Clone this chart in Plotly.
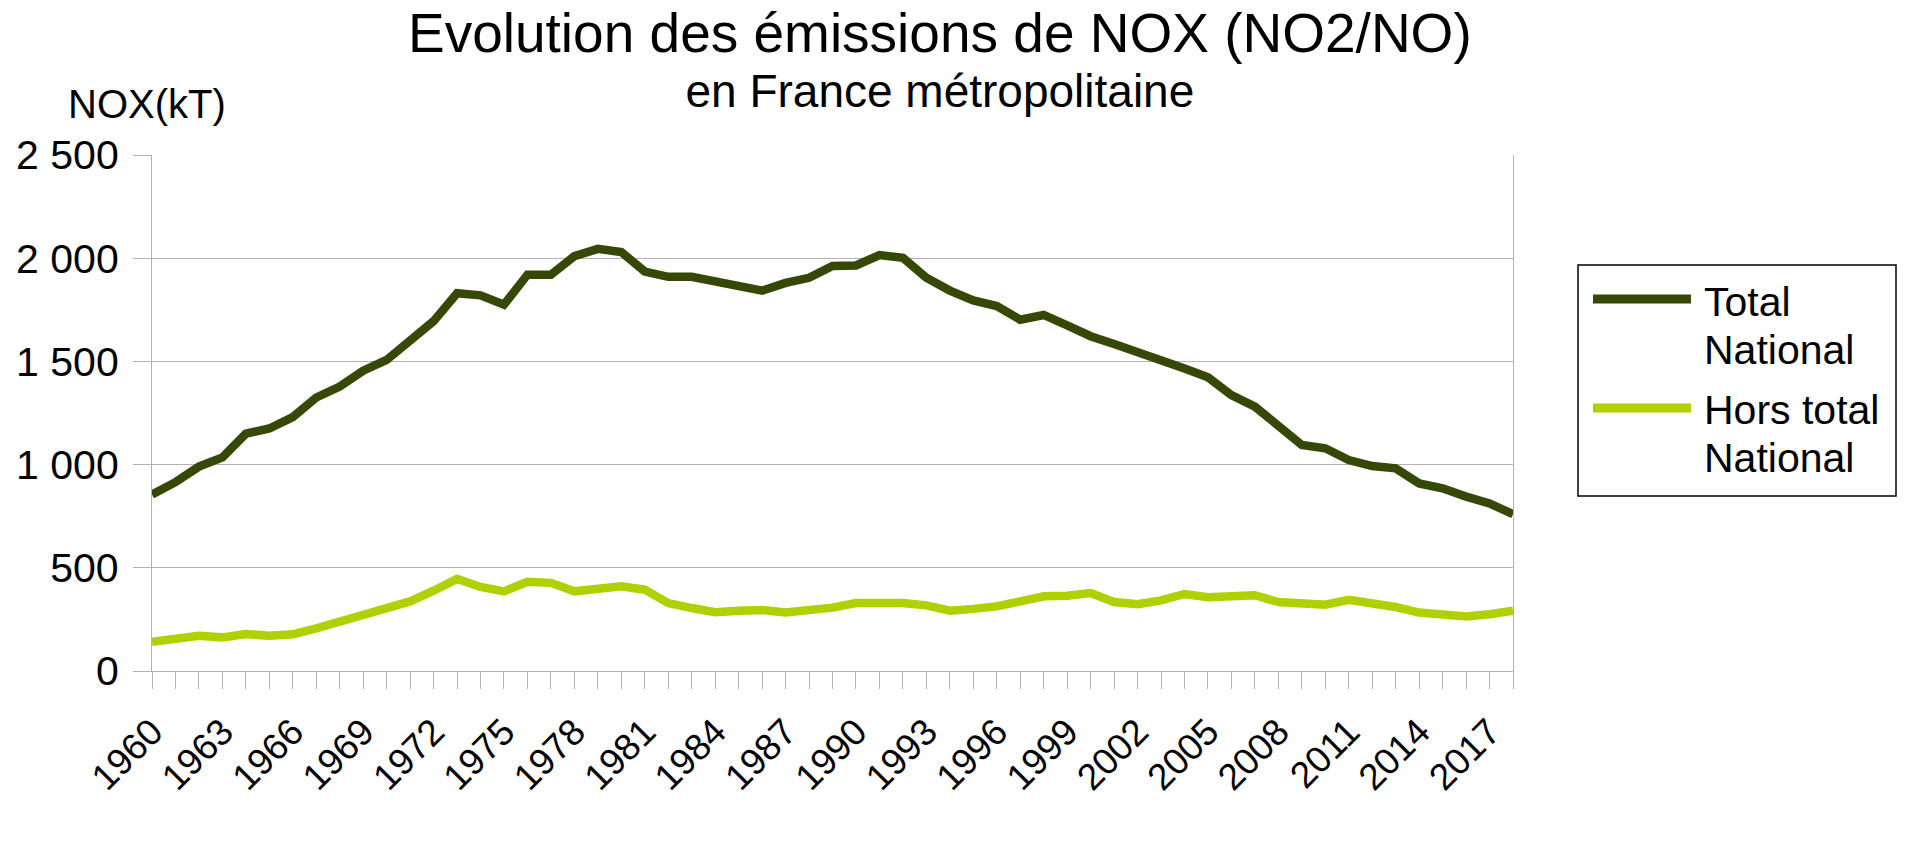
import plotly.graph_objects as go

years = [1960, 1961, 1962, 1963, 1964, 1965, 1966, 1967, 1968, 1969,
         1970, 1971, 1972, 1973, 1974, 1975, 1976, 1977, 1978, 1979,
         1980, 1981, 1982, 1983, 1984, 1985, 1986, 1987, 1988, 1989,
         1990, 1991, 1992, 1993, 1994, 1995, 1996, 1997, 1998, 1999,
         2000, 2001, 2002, 2003, 2004, 2005, 2006, 2007, 2008, 2009,
         2010, 2011, 2012, 2013, 2014, 2015, 2016, 2017, 2018]

total_national = [855, 915, 990, 1035, 1150, 1175, 1230, 1325, 1378, 1455,
                  1507, 1595, 1695, 1830, 1820, 1775, 1920, 1920, 2010, 2045,
                  2030, 1935, 1910, 1910, 1885, 1862, 1843, 1880, 1905, 1962,
                  1965, 2015, 2002, 1905, 1843, 1795, 1768, 1702, 1725, 1675,
                  1622, 1584, 1547, 1503, 1466, 1423, 1337, 1281, 1184, 1095,
                  1079, 1022, 993, 982, 909, 885, 845, 812, 760]

hors_total = [142, 158, 171, 163, 179, 171, 178, 207, 239, 275,
              305, 337, 389, 446, 407, 386, 432, 427, 386, 402,
              410, 394, 329, 305, 285, 292, 296, 283, 290, 307,
              329, 329, 329, 318, 292, 301, 313, 337, 362, 365,
              378, 334, 324, 342, 373, 357, 357, 367, 334, 329,
              321, 345, 329, 310, 283, 272, 264, 275, 292]

y_tickvals = [0, 500, 1000, 1500, 2000, 2500]
y_ticktext = ["0", "500", "1 000", "1 500", "2 000", "2 500"]
x_label_years = [1960, 1963, 1966, 1969, 1972, 1975, 1978, 1981, 1984, 1987,
                 1990, 1993, 1996, 1999, 2002, 2005, 2008, 2011, 2014, 2017]

series_names = ["Total National", "Hors total National"]
legend_lines = [["Total", "National"], ["Hors total", "National"]]
colors = ["#354805", "#b0d000"]

title_text = "Evolution des émissions de NOX (NO2/NO)"
subtitle_text = "en France métropolitaine"
y_title_text = "NOX(kT)"

W, H = 1920, 853
L, R, T, B = 152, 1513, 155, 671
FONT = "Liberation Sans, Arial, sans-serif"


def px(x):
    return (x - L) / (R - L)


def py(y):
    return (B - y) / (B - T)


fig = go.Figure()
for name, vals, col in zip(series_names, [total_national, hors_total], colors):
    fig.add_trace(go.Scatter(x=years, y=vals, mode="lines", name=name,
                             line=dict(color=col, width=8.5),
                             showlegend=False))

title_block = ("<span style='font-size:55px'>" + title_text + "</span><br>"
               "<span style='font-size:46px'>" + subtitle_text + "</span>")

annotations = [
    dict(text=title_block, x=px(940), y=py(59.5), font=dict(size=42.3)),
    dict(text=y_title_text, x=px(147), y=py(104), font=dict(size=40)),
]
legend_text_y = [[302, 350], [410, 458]]
for lines, ys in zip(legend_lines, legend_text_y):
    for t, yy in zip(lines, ys):
        annotations.append(dict(text=t, x=px(1703), y=py(yy), xanchor="left",
                                font=dict(size=41)))
for a in annotations:
    a.setdefault("xanchor", "center")
    a.update(xref="paper", yref="paper", yanchor="middle", showarrow=False,
             borderpad=0)
    a["font"].update(family=FONT, color="black")

shapes = [
    dict(type="rect", xref="paper", yref="paper",
         x0=px(1578), x1=px(1896), y0=py(265), y1=py(496),
         line=dict(color="black", width=1.5), fillcolor="white"),
]
for col, yy in zip(colors, [299, 408]):
    shapes.append(dict(type="line", xref="paper", yref="paper",
                       x0=px(1593), x1=px(1691), y0=py(yy), y1=py(yy),
                       line=dict(color=col, width=9)))

fig.update_layout(
    width=W, height=H,
    margin=dict(l=L, r=W - R, t=T, b=H - B, pad=0),
    paper_bgcolor="white", plot_bgcolor="white",
    font=dict(family=FONT, size=40, color="black"),
    annotations=annotations, shapes=shapes,
    showlegend=False,
)
fig.update_xaxes(
    range=[1960, 2018], tickvals=x_label_years, ticktext=[str(v) for v in x_label_years],
    tickangle=-45, ticks="outside", ticklen=17, tickcolor="#b3b3b3", tickwidth=1.2,
    minor=dict(dtick=1, tick0=1960, ticks="outside", ticklen=17, tickcolor="#b3b3b3",
               tickwidth=1.2, showgrid=False),
    showgrid=False, showline=True, linecolor="#b3b3b3", linewidth=1.2,
    zeroline=False, tickfont=dict(size=37), ticklabelstandoff=6,
)
fig.update_yaxes(
    range=[0, 2500], tickvals=y_tickvals, ticktext=y_ticktext,
    ticks="outside", ticklen=18, tickcolor="#b3b3b3", tickwidth=1.2,
    showgrid=True, gridcolor="#b3b3b3", gridwidth=1.2,
    showline=True, mirror=True, linecolor="#b3b3b3", linewidth=1.2,
    zeroline=False, tickfont=dict(size=41), ticklabelstandoff=6,
)

fig.write_html("out.html", config={"displayModeBar": False},
               post_script="document.body.style.margin='0px';document.body.style.overflow='hidden';")
